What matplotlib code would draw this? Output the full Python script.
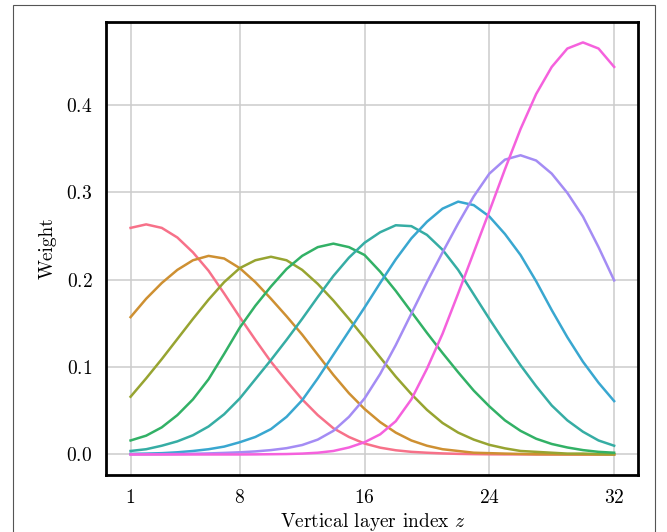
import matplotlib
matplotlib.use("Agg")
import matplotlib.pyplot as plt
import seaborn as sns
from matplotlib.patches import Rectangle

plt.rcParams['font.family'] = 'serif'
plt.rcParams['font.serif'] = ['cmr10']
plt.rcParams['mathtext.fontset'] = 'cm'
plt.rcParams['axes.formatter.use_mathtext'] = True

z = list(range(1, 33))

# weights per layer (peaks at z = 2, 6, ..., 30)
w_red = [0.259, 0.263, 0.259, 0.248, 0.231, 0.210, 0.184, 0.157, 0.131, 0.106,
         0.084, 0.063, 0.045, 0.030, 0.020, 0.0125, 0.0078, 0.0048, 0.003, 0.002,
         0.0012, 0.0007, 0.0004, 0.0002, 0.0001, 0.0001, 0.0, 0.0, 0.0, 0.0, 0.0, 0.0]
w_orange = [0.157, 0.178, 0.196, 0.211, 0.222, 0.227, 0.224, 0.213, 0.197, 0.178,
            0.158, 0.137, 0.114, 0.091, 0.070, 0.052, 0.037, 0.025, 0.016, 0.010,
            0.006, 0.004, 0.002, 0.0015, 0.001, 0.0006, 0.0003, 0.0002, 0.0001, 0.0, 0.0, 0.0]
w_olive = [0.066, 0.087, 0.109, 0.132, 0.155, 0.177, 0.197, 0.213, 0.222, 0.226,
           0.222, 0.211, 0.195, 0.176, 0.155, 0.133, 0.111, 0.089, 0.069, 0.051,
           0.036, 0.025, 0.017, 0.011, 0.007, 0.004, 0.003, 0.002, 0.001, 0.001, 0.0005, 0.0003]
w_green = [0.016, 0.0215, 0.031, 0.045, 0.063, 0.086, 0.115, 0.145, 0.170, 0.192,
           0.212, 0.227, 0.237, 0.241, 0.237, 0.228, 0.209, 0.187, 0.163, 0.139,
           0.116, 0.094, 0.073, 0.055, 0.039, 0.027, 0.018, 0.012, 0.008, 0.005, 0.003, 0.002]
w_teal = [0.004, 0.006, 0.010, 0.015, 0.022, 0.032, 0.046, 0.064, 0.086, 0.108,
          0.131, 0.155, 0.180, 0.204, 0.225, 0.242, 0.254, 0.262, 0.261, 0.251,
          0.234, 0.211, 0.183, 0.155, 0.128, 0.102, 0.078, 0.056, 0.039, 0.026, 0.016, 0.010]
w_blue = [0.0007, 0.001, 0.0015, 0.0025, 0.004, 0.006, 0.009, 0.014, 0.020, 0.029,
          0.043, 0.062, 0.087, 0.114, 0.141, 0.168, 0.196, 0.223, 0.247, 0.266,
          0.281, 0.289, 0.285, 0.272, 0.252, 0.228, 0.198, 0.165, 0.134, 0.106, 0.082, 0.061]
w_purple = [0.0001, 0.0002, 0.0003, 0.0005, 0.0008, 0.0012, 0.0018, 0.0025, 0.0035, 0.005,
            0.0072, 0.0108, 0.017, 0.027, 0.043, 0.064, 0.092, 0.125, 0.161, 0.197,
            0.231, 0.264, 0.295, 0.321, 0.337, 0.342, 0.336, 0.321, 0.299, 0.272, 0.237, 0.199]
w_magenta = [0.0, 0.0, 0.0, 0.0, 0.0, 0.0, 0.0, 0.0, 0.0001, 0.0003,
             0.0005, 0.001, 0.002, 0.004, 0.008, 0.014, 0.023, 0.038, 0.063, 0.098,
             0.138, 0.184, 0.231, 0.278, 0.326, 0.372, 0.412, 0.443, 0.464, 0.471, 0.464, 0.443]

series = [w_red, w_orange, w_olive, w_green, w_teal, w_blue, w_purple, w_magenta]
colors = sns.color_palette("husl", len(series))

fig = plt.figure(figsize=(6.67, 5.32), dpi=100)
ax = fig.add_axes([0.1595, 0.107, 0.7975, 0.852])

for w, c in zip(series, colors):
    ax.plot(z, w, color=c, lw=1.8)

ax.set_xticks([1, 8, 16, 24, 32])
ax.set_yticks([0.0, 0.1, 0.2, 0.3, 0.4])
ax.grid(True, color='#cccccc', lw=1.1)
ax.set_axisbelow(True)
ax.tick_params(length=0, pad=10, labelsize=14)
for s in ax.spines.values():
    s.set_linewidth(2.0)
    s.set_color('black')

ax.set_xlabel('Vertical layer index $z$', fontsize=14, labelpad=3)
ax.set_ylabel('Weight', fontsize=14, labelpad=7)

# thin frame around the figure
fig.patches.append(Rectangle((0.019, -0.01), 0.963, 1.0015, transform=fig.transFigure,
                             fill=False, edgecolor='#555555', lw=0.8))

fig.savefig('out.png', dpi=100)
